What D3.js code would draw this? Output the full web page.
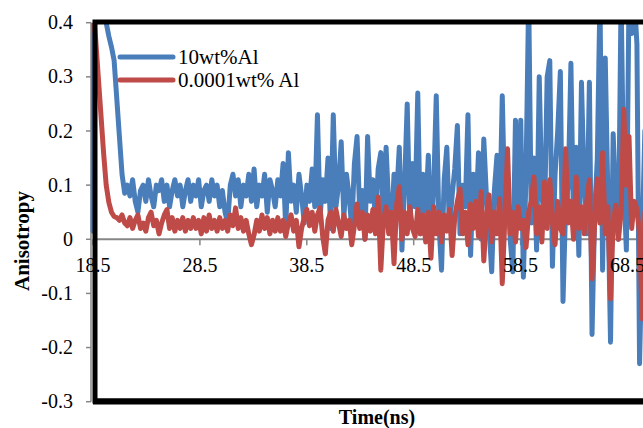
<!DOCTYPE html>
<html lang="en">
<head>
<meta charset="utf-8">
<title>anisotropy</title>
<script src="https://cdn.jsdelivr.net/npm/d3@7"></script>
<style>
body { margin: 0; background: #fff; }
</style>
</head>
<body>
<div id="chart"></div>
<script>
// sampling: first time point and step (ns)
var t0 = 18.5
var dt = 0.247

var seriesNames = ["10wt%Al", "0.0001wt% Al"]
var seriesColors = ["#4a7ebb", "#be4b48"]

var xTicks = [18.5, 28.5, 38.5, 48.5, 58.5, 68.5]
var yTicks = [-0.3, -0.2, -0.1, 0, 0.1, 0.2, 0.3, 0.4]

// 10wt%Al (clipped above 0.4)
var blue = [
0.015, 1.2, 0.6, 0.5, 0.45, 0.40, 0.375, 0.355, 0.33, 0.26,
0.19, 0.12, 0.085, 0.10, 0.08, 0.11, 0.07, 0.05, 0.09, 0.10,
0.07, 0.11, 0.08, 0.06, 0.10, 0.09, 0.11, 0.07, 0.10, 0.06,
0.09, 0.11, 0.08, 0.10, 0.06, 0.09, 0.11, 0.07, 0.10, 0.08,
0.11, 0.06, 0.09, 0.10, 0.07, 0.11, 0.08, 0.10, 0.06, 0.09,
0.05, 0.03, 0.10, 0.12, 0.08, 0.11, 0.06, 0.10, 0.08, 0.12,
0.07, 0.13, 0.06, 0.10, 0.08, 0.12, 0.05, 0.11, 0.09, 0.06,
0.11, 0.08, 0.14, 0.02, 0.16, 0.07, 0.10, 0.05, 0.12, 0.08,
0.03, 0.10, 0.07, 0.13, 0.06, 0.23, 0.04, 0.11, 0.07, 0.15,
0.02, 0.23, 0.06, 0.10, 0.18, 0.04, 0.12, 0.08, 0.02, 0.14,
0.19, 0.05, 0.09, 0.00, 0.19, 0.07, 0.11, 0.03, 0.13, 0.16,
0.04, 0.17, 0.06, 0.01, 0.12, 0.08, 0.17, -0.02, 0.10, 0.25,
0.03, 0.14, 0.06, 0.27, 0.01, 0.12, 0.05, 0.155, 0.00, 0.09,
0.265, 0.03, -0.057, 0.11, 0.17, 0.02, 0.08, 0.13, 0.21, 0.01,
0.10, 0.06, 0.23, -0.03, 0.12, 0.04, 0.16, 0.00, 0.185, 0.08,
0.02, -0.06, 0.09, 0.155, 0.03, 0.265, 0.05, 0.11, 0.00, -0.06,
0.22, 0.06, 0.22, -0.07, 0.12, 0.45, 0.03, 0.15, -0.02, 0.30,
0.08, 0.04, 0.30, 0.33, -0.05, 0.12, 0.20, 0.31, -0.115, 0.06,
0.10, 0.325, 0.02, 0.17, -0.03, 0.29, 0.10, 0.01, 0.29, -0.176,
0.05, 0.15, 0.45, -0.057, 0.335, 0.08, -0.19, 0.195, 0.06, 0.00,
0.45, 0.10, -0.02, 0.45, 0.38, 0.45, 0.36, -0.23, 0.00, 0.20
]

// 0.0001wt% Al
var red = [
0.42, 0.37, 0.30, 0.23, 0.16, 0.10, 0.068, 0.05, 0.042, 0.04,
0.035, 0.045, 0.03, 0.025, 0.04, 0.02, 0.035, 0.045, 0.02, 0.03,
0.015, 0.04, 0.05, 0.025, 0.035, 0.01, 0.03, 0.045, 0.055, 0.02,
0.04, 0.015, 0.035, 0.02, 0.04, 0.015, 0.035, 0.02, 0.04, 0.02,
0.035, 0.01, 0.04, 0.015, 0.045, 0.02, 0.035, 0.015, 0.04, 0.02,
0.035, 0.015, 0.045, 0.025, 0.058, 0.02, 0.04, 0.015, 0.035, 0.01,
-0.01, 0.008, 0.035, 0.015, 0.045, 0.02, 0.04, 0.01, 0.035, 0.015,
0.04, 0.015, 0.035, 0.005, 0.03, 0.045, 0.015, 0.035, -0.014, 0.02,
0.04, 0.055, 0.025, 0.05, 0.015, 0.045, 0.058, 0.005, -0.027, 0.035,
0.05, 0.015, 0.055, 0.03, 0.005, 0.045, 0.02, 0.035, -0.01, 0.025,
0.065, 0.02, 0.05, 0.0, 0.045, 0.015, 0.055, 0.01, 0.078, -0.057,
0.035, 0.06, 0.01, 0.05, -0.045, 0.065, 0.097, 0.0, 0.05, 0.01,
0.06, 0.02, 0.005, 0.055, 0.01, 0.045, -0.005, 0.05, -0.035, 0.06,
0.01, 0.05, -0.005, 0.045, 0.015, 0.055, -0.03, 0.04, 0.07, 0.093,
0.01, 0.05, -0.01, 0.065, 0.02, 0.07, 0.005, 0.088, -0.04, 0.04,
0.082, -0.005, 0.05, 0.01, 0.075, -0.082, 0.04, 0.167, 0.01, 0.05,
-0.005, 0.06, 0.02, 0.035, -0.015, 0.05, 0.07, 0.115, 0.01, 0.06,
-0.005, 0.106, 0.02, 0.11, 0.03, -0.01, 0.07, 0.02, 0.01, 0.167,
0.03, 0.07, 0.0, 0.115, 0.02, 0.06, 0.01, 0.07, 0.11, -0.073,
0.03, 0.112, 0.03, 0.16, 0.01, 0.06, -0.11, 0.03, 0.063, 0.0,
0.05, 0.24, 0.10, 0.19, 0.02, 0.07, 0.056, 0.01, -0.147, 0.05
]

var times = d3.range(blue.length).map(function(i){ return t0 + i*dt })

var W = 643, H = 428
var svg = d3.select("#chart").append("svg")
    .attr("width", W).attr("height", H)
    .style("font-family", "'Times New Roman', 'Liberation Serif', 'DejaVu Serif', serif")

var x = d3.scaleLinear().domain([18.5, 78.5]).range([93, 734.4])
var y = d3.scaleLinear().domain([-0.3, 0.4]).range([401.7, 22.7])

var grey = "#868686"
// excel style labels with a plain hyphen
var fmt = function(d){ return d === 0 ? "0" : d3.format(".1f")(d).replace("\u2212", "-") }

// left value axis (thin grey line + ticks)
svg.append("line")
    .attr("x1", 91).attr("x2", 91)
    .attr("y1", y(0.4)).attr("y2", y(-0.3))
    .attr("stroke", grey).attr("stroke-width", 1.5)

svg.selectAll(".ytick").data(yTicks).enter().append("line")
    .attr("class", "ytick")
    .attr("x1", 86).attr("x2", 91)
    .attr("y1", function(d){ return y(d) })
    .attr("y2", function(d){ return y(d) })
    .attr("stroke", grey).attr("stroke-width", 1.5)

svg.selectAll(".ylab").data(yTicks).enter().append("text")
    .attr("class", "ylab")
    .attr("x", 73)
    .attr("y", function(d){ return y(d) })
    .attr("dy", "0.33em")
    .attr("text-anchor", "end")
    .attr("font-size", 20)
    .text(fmt)

// time axis sits at y = 0
svg.append("line")
    .attr("x1", 93).attr("x2", W)
    .attr("y1", y(0)).attr("y2", y(0))
    .attr("stroke", grey).attr("stroke-width", 2)

svg.selectAll(".xtick").data(xTicks).enter().append("line")
    .attr("class", "xtick")
    .attr("x1", function(d){ return x(d) })
    .attr("x2", function(d){ return x(d) })
    .attr("y1", y(0)).attr("y2", y(0) + 6)
    .attr("stroke", grey).attr("stroke-width", 1.5)

// data lines, clipped to the plot frame
svg.append("clipPath").attr("id", "plotclip")
    .append("rect")
    .attr("x", 88).attr("y", y(0.4))
    .attr("width", W).attr("height", y(-0.3) - y(0.4))

var line = d3.line()
    .x(function(d){ return x(d[0]) })
    .y(function(d){ return y(d[1]) })

var g = svg.append("g").attr("clip-path", "url(#plotclip)")
;[blue, red].forEach(function(vals, k){
    g.append("path")
        .datum(vals.map(function(v, i){ return [times[i], v] }))
        .attr("d", line)
        .attr("fill", "none")
        .attr("stroke", seriesColors[k])
        .attr("stroke-width", 5)
        .attr("stroke-linejoin", "round")
        .attr("stroke-linecap", "round")
})

// tick labels for time drawn over the lines
svg.selectAll(".xlab").data(xTicks).enter().append("text")
    .attr("class", "xlab")
    .attr("x", function(d){ return x(d) })
    .attr("y", y(0) + 33)
    .attr("text-anchor", "middle")
    .attr("font-size", 20)
    .text(fmt)

// thick black frame
svg.append("path")
    .attr("d", "M" + W + "," + 22 + "H95V401H" + W)
    .attr("fill", "none")
    .attr("stroke", "#000")
    .attr("stroke-width", 5)
svg.append("line")
    .attr("x1", 93).attr("x2", W).attr("y1", 401.5).attr("y2", 401.5)
    .attr("stroke", "#000").attr("stroke-width", 6)

// legend
var legend = svg.append("g")
seriesNames.forEach(function(name, k){
    var ly = 57 + k*23
    legend.append("line")
        .attr("x1", 120).attr("x2", 173)
        .attr("y1", ly).attr("y2", ly)
        .attr("stroke", seriesColors[k])
        .attr("stroke-width", 5)
        .attr("stroke-linecap", "round")
    legend.append("text")
        .attr("x", 178).attr("y", ly + 7)
        .attr("font-size", 21)
        .text(name)
})

// axis titles
svg.append("text")
    .attr("transform", "translate(29,241) rotate(-90)")
    .attr("text-anchor", "middle")
    .attr("font-size", 21)
    .attr("font-weight", "bold")
    .text("Anisotropy")

svg.append("text")
    .attr("x", 377).attr("y", 424)
    .attr("text-anchor", "middle")
    .attr("font-size", 20)
    .attr("font-weight", "bold")
    .text("Time(ns)")
</script>
</body>
</html>
